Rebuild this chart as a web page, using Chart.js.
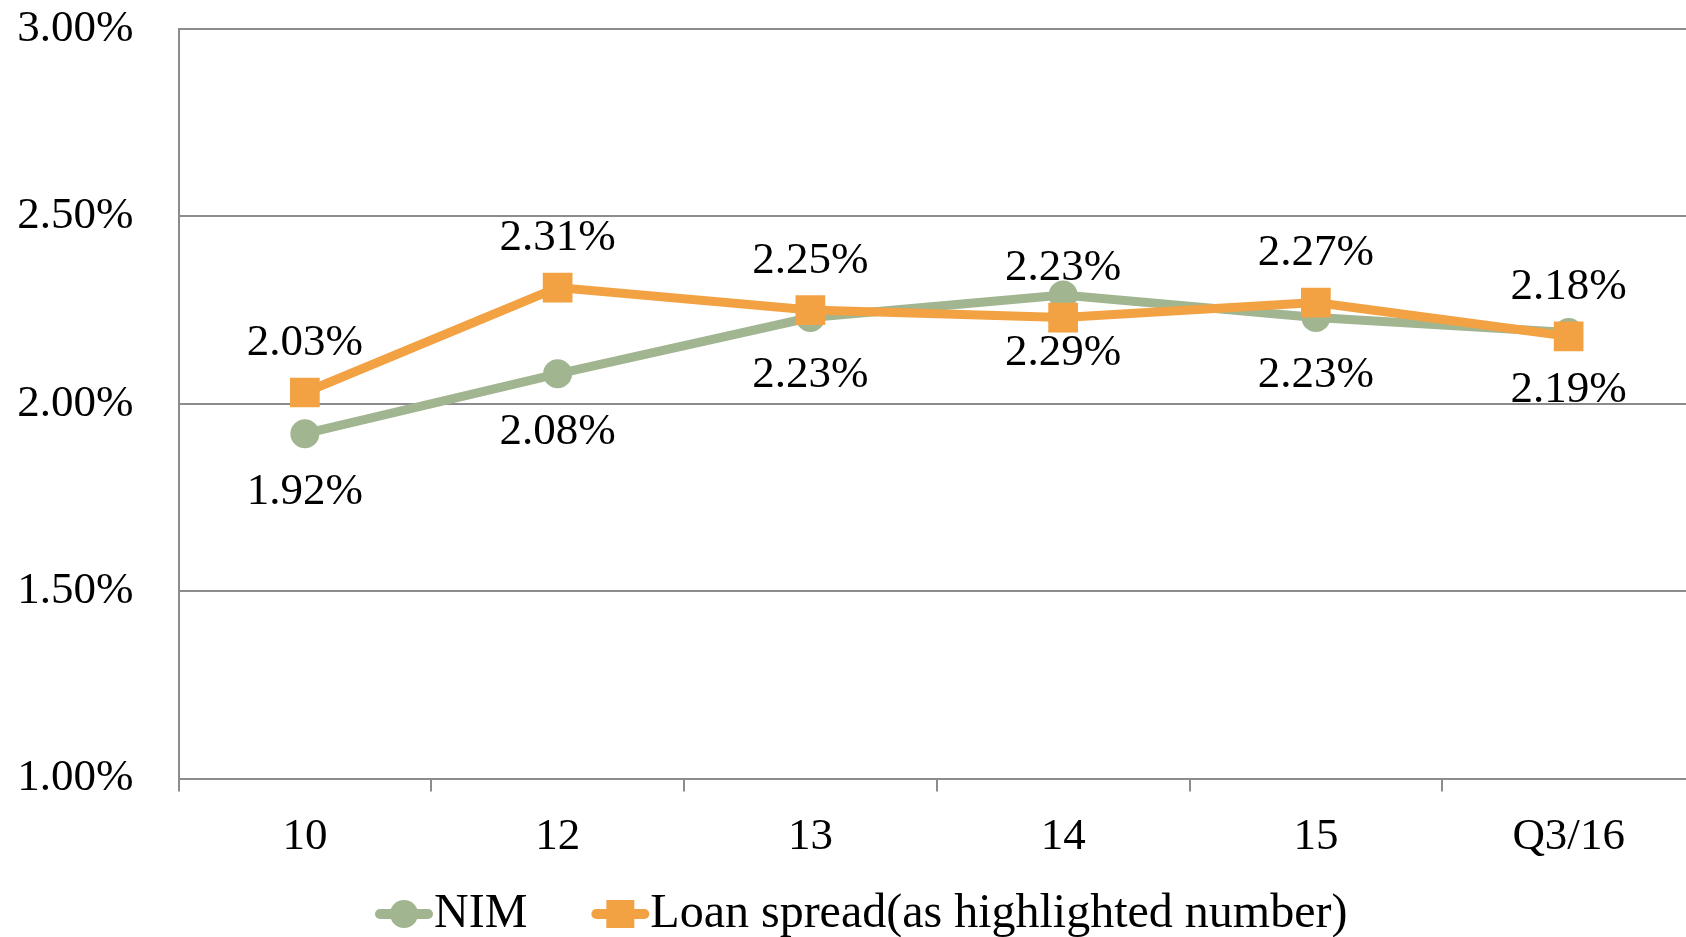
<!DOCTYPE html>
<html>
<head>
<meta charset="utf-8">
<script src="https://cdn.jsdelivr.net/npm/chart.js@4/dist/chart.umd.min.js"></script>
<style>
  html, body { margin: 0; padding: 0; background: #fff; overflow: hidden; }
</style>
</head>
<body>
<canvas id="myChart" width="1695" height="937"></canvas>
<script>
// ------ data ------------
var categories = ['10', '12', '13', '14', '15', 'Q3/16'];
var nimValues = [1.92, 2.08, 2.23, 2.29, 2.23, 2.19];
var loanSpreadValues = [2.03, 2.31, 2.25, 2.23, 2.27, 2.18];
var seriesNames = ['NIM', 'Loan spread(as highlighted number)'];

var green = '#a2b591';
var orange = '#f2a243';
var gridGrey = '#8c8c8c';
var serif = "'Liberation Serif', 'Times New Roman', serif";

// value labels: loan spread above, NIM below
var valueLabels = {
  id: 'valueLabels',
  afterDatasetsDraw: function (chart) {
    var ctx = chart.ctx;
    ctx.save();
    ctx.font = '45px ' + serif;
    ctx.fillStyle = '#000';
    ctx.textAlign = 'center';
    ctx.textBaseline = 'middle';
    chart.data.datasets.forEach(function (ds, i) {
      var meta = chart.getDatasetMeta(i);
      meta.data.forEach(function (pt, j) {
        ctx.fillText(ds.data[j].toFixed(2) + '%', pt.x, pt.y + ds.labelOffset);
      });
    });
    ctx.restore();
  }
};

// legend with line + marker, like the office chart
var lineLegend = {
  id: 'lineLegend',
  afterDraw: function (chart) {
    var ctx = chart.ctx;
    var y = 914;
    var x = 376;
    ctx.save();
    ctx.font = '48px ' + serif;
    ctx.textBaseline = 'middle';
    chart.data.datasets.forEach(function (ds) {
      ctx.strokeStyle = ds.borderColor;
      ctx.lineWidth = 10;
      ctx.lineCap = 'round';
      ctx.beginPath();
      ctx.moveTo(x + 4, y);
      ctx.lineTo(x + 52, y);
      ctx.stroke();
      ctx.fillStyle = ds.borderColor;
      if (ds.pointStyle === 'rect') {
        ctx.fillRect(x + 28 - 14, y - 14, 28, 28);
      } else {
        ctx.beginPath();
        ctx.arc(x + 28, y, 14, 0, Math.PI * 2);
        ctx.fill();
      }
      ctx.fillStyle = '#000';
      ctx.fillText(ds.label, x + 58, y);
      x += 58 + ctx.measureText(ds.label).width + 65;
    });
    ctx.restore();
  }
};

var myChart = new Chart('myChart', {
  type: 'line',
  data: {
    labels: categories,
    datasets: [{
      label: seriesNames[0],
      data: nimValues,
      borderColor: green,
      backgroundColor: green,
      borderWidth: 9,
      pointStyle: 'circle',
      pointRadius: 14.5,
      pointHoverRadius: 14.5,
      pointBorderWidth: 0,
      labelOffset: 58,
      order: 2
    }, {
      label: seriesNames[1],
      data: loanSpreadValues,
      borderColor: orange,
      backgroundColor: orange,
      borderWidth: 9,
      pointStyle: 'rect',
      pointRadius: 21,
      pointHoverRadius: 21,
      pointBorderWidth: 0,
      labelOffset: -49,
      order: 1
    }]
  },
  options: {
    responsive: false,
    animation: false,
    layout: { autoPadding: false, padding: { top: 29, left: 0, right: 0, bottom: 0 } },
    plugins: {
      legend: { display: false },
      tooltip: { enabled: false }
    },
    scales: {
      x: {
        offset: true,
        grid: {
          offset: true,
          drawOnChartArea: false,
          drawTicks: true,
          tickLength: 13,
          color: gridGrey,
          lineWidth: 2
        },
        border: { color: gridGrey, width: 2 },
        ticks: {
          color: '#000',
          font: { family: serif, size: 45 },
          padding: 19,
          maxRotation: 0
        },
        afterFit: function (scale) {
          scale.height = 158.5;
          scale.paddingLeft = 0;
          scale.paddingRight = 0;
        }
      },
      y: {
        min: 1,
        max: 3,
        grid: { color: gridGrey, lineWidth: 2, drawTicks: false },
        border: { color: gridGrey, width: 2 },
        ticks: {
          stepSize: 0.5,
          color: '#000',
          font: { family: serif, size: 45 },
          padding: 45,
          callback: function (v) { return v.toFixed(2) + '%'; }
        },
        afterFit: function (scale) {
          scale.width = 178.5;
          scale.paddingTop = 0;
          scale.paddingBottom = 0;
        }
      }
    }
  },
  plugins: [valueLabels, lineLegend]
});
</script>
</body>
</html>
